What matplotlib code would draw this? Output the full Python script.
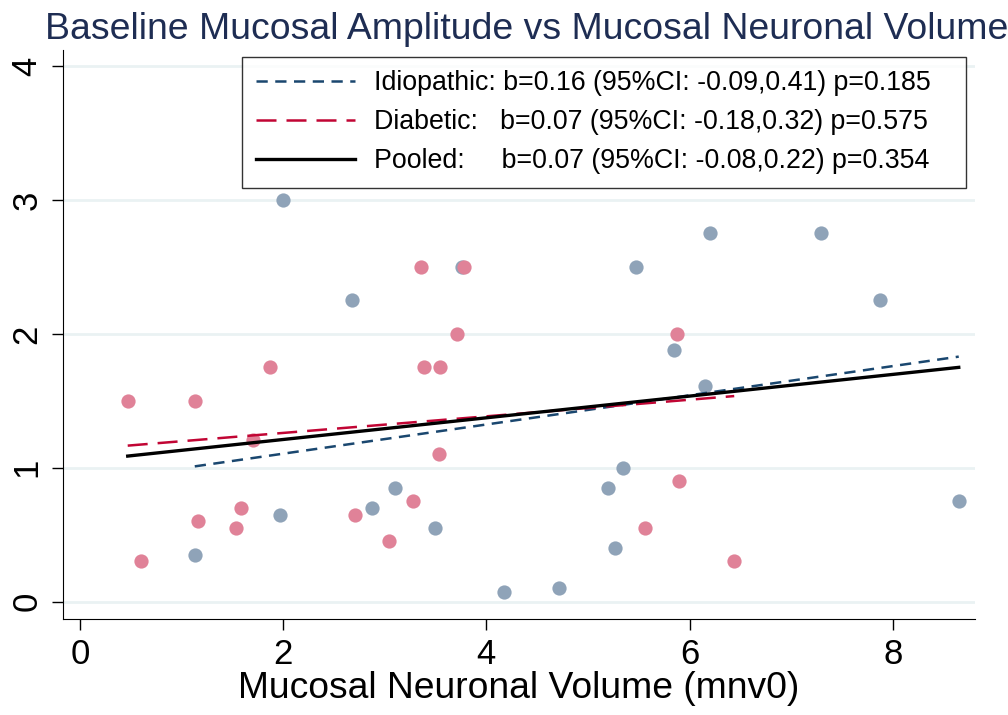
import matplotlib
matplotlib.use("Agg")
import matplotlib.pyplot as plt
import numpy as np

plt.rcParams['font.family'] = ['Liberation Sans', 'DejaVu Sans']

# Idiopathic group (mnv0, baseline mucosal amplitude)
idio_x = [2.00, 2.68, 3.76, 1.13, 1.97, 2.87, 3.10, 3.49, 4.17,
          6.20, 7.29, 5.47, 7.87, 5.85, 6.15, 5.35, 5.20, 5.27, 4.72, 8.65]
idio_y = [3.00, 2.25, 2.50, 0.35, 0.65, 0.70, 0.85, 0.55, 0.07,
          2.75, 2.75, 2.50, 2.25, 1.88, 1.61, 1.00, 0.85, 0.40, 0.10, 0.75]

# Diabetic group
diab_x = [0.47, 1.13, 1.87, 3.36, 3.78, 3.71, 3.39, 3.54, 1.70, 3.53, 0.60,
          1.16, 1.59, 1.54, 2.71, 3.28, 3.04, 5.88, 5.90, 5.56, 6.44]
diab_y = [1.50, 1.50, 1.75, 2.50, 2.50, 2.00, 1.75, 1.75, 1.21, 1.10, 0.30,
          0.60, 0.70, 0.55, 0.65, 0.75, 0.45, 2.00, 0.90, 0.55, 0.30]

# fitted lines as drawn in the original (intercept, slope)
fit_idio = (0.887, 0.109)
fit_diab = (1.136, 0.062)
fit_pool = (1.049, 0.081)

labels = [
    "Idiopathic: b=0.16 (95%CI: -0.09,0.41) p=0.185   ",
    "Diabetic:   b=0.07 (95%CI: -0.18,0.32) p=0.575   ",
    "Pooled:     b=0.07 (95%CI: -0.08,0.22) p=0.354   ",
]

x_ticks = [0, 2, 4, 6, 8]
y_ticks = [0, 1, 2, 3, 4]


def line_over(x, fit):
    xs = np.array([min(x), max(x)])
    return xs, fit[0] + fit[1] * xs


fig = plt.figure(figsize=(10.08, 7.15), dpi=100)
ax = fig.add_axes([63 / 1008, 1 - 618.5 / 715, (975 - 63) / 1008, (618.5 - 50) / 715])

ax.scatter(idio_x, idio_y, s=105, color='#8fa3b8', linewidths=0, zorder=3)
ax.scatter(diab_x, diab_y, s=105, color='#e08298', linewidths=0, zorder=3)

xs, ys = line_over(idio_x, fit_idio)
ax.plot(xs, ys, color='#1a476f', lw=1.8, dashes=(4.5, 3), label=labels[0], zorder=4)
xs, ys = line_over(diab_x, fit_diab)
ax.plot(xs, ys, color='#c10534', lw=1.8, dashes=(8, 4), label=labels[1], zorder=4)
xs, ys = line_over(idio_x + diab_x, fit_pool)
ax.plot(xs, ys, color='black', lw=2.4, label=labels[2], zorder=4)

ax.set_xlim(-0.167, 8.81)
ax.set_ylim(-0.126, 4.12)
ax.set_xticks(x_ticks)
ax.set_yticks(y_ticks)
ax.tick_params(axis='both', labelsize=25, length=8, width=1, pad=6)
plt.setp(ax.get_yticklabels(), rotation=90, va='center')
ax.grid(axis='y', color='#eaf2f3', lw=2)
ax.set_axisbelow(True)
for side in ['top', 'right']:
    ax.spines[side].set_visible(False)

ax.set_xlabel("Mucosal Neuronal Volume (mnv0)", fontsize=26.8, labelpad=0)
fig.text(0.5225, 0.959, "Baseline Mucosal Amplitude vs Mucosal Neuronal Volume",
         ha='center', va='center', fontsize=26.9, color='#1e2d53')

leg = ax.legend(loc='upper right', bbox_to_anchor=(966 / 1008, 1 - 57 / 715),
                bbox_transform=fig.transFigure, fontsize=19.3, handlelength=3.7,
                handletextpad=0.7, borderaxespad=0, frameon=True, fancybox=False,
                edgecolor='black', borderpad=0.5, labelspacing=0.48)
leg.get_frame().set_linewidth(1)

fig.savefig("out.png", dpi=100)
